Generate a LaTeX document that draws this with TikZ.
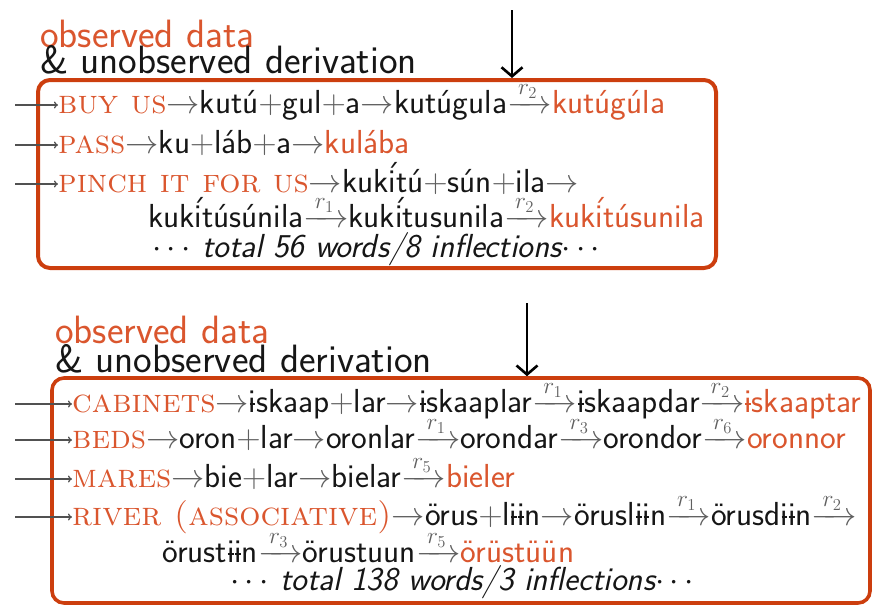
\RequirePackage{fix-cm}
\documentclass[tikz,border=0pt]{standalone}
\usepackage{amsmath}
\usetikzlibrary{arrows.meta}
\definecolor{boxred}{RGB}{204,62,14}
\definecolor{obs}{RGB}{218,86,46}
\definecolor{ag}{RGB}{95,95,95}
\definecolor{tx}{RGB}{22,22,22}
\newcommand\A{{\color{ag}$\rightarrow$}}
\newcommand\Pl{{\color{ag}$+$}}
\newcommand\R[1]{{\color{ag}$\xrightarrow{\,r_{#1}\,}$}}
\newcommand\G[1]{{\color{obs}\rmfamily\scshape #1}}
\newcommand\Ob[1]{{\color{obs}#1}}
\newcommand\ibar{\ooalign{i\cr\hidewidth\rule[0.22em]{0.17em}{0.055em}\hidewidth\cr}}
\newcommand\iac{\ooalign{i\cr\hidewidth\raisebox{0.2em}{\kern0.06em ´}\hidewidth\cr}}
\begin{document}
\begin{tikzpicture}[x=1pt,y=-1pt,
  body/.style={anchor=base west,inner sep=0pt,text=tx,font=\sffamily\fontsize{33.3}{33.3}\selectfont},
  ttl/.style={anchor=base west,inner sep=0pt,font=\sffamily\fontsize{39.5}{39.5}\selectfont},
  box/.style={draw=boxred,rounded corners=12pt,inner sep=0pt},
  lin/.style={draw=ag!85!black,line width=1.3pt,-{To[length=4pt,width=7pt]}},
  down/.style={draw=black,line width=2.6pt,-{Straight Barb[length=9pt,width=21pt,line width=2.6pt]}}]
\useasboundingbox (0,0) rectangle (872,605);
% ---------- top panel ----------
\node[ttl,text=obs] (o1) at (40,47) {observed data};
\node[ttl,text=tx] (u1) at (40,73) {\& unobserved derivation};
\node[box,line width=4pt,minimum width=678pt,minimum height=188pt] (B1) at (377,174) {};
\coordinate (d1) at (512,10);
\draw[down] (d1) -- (d1 |- B1.north);
\node[body] (t1) at (58,113) {\G{buy us}\A kutú\Pl gul\Pl a\A kutúgula\R{2}\Ob{kutúgúla}};
\node[body] (t2) at (58,153) {\G{pass}\A ku\Pl láb\Pl a\A\Ob{kulába}};
\node[body] (t3) at (58,192) {\G{pinch it for us}\A kuk\iac tú\Pl sún\Pl ila\A};
\node[body] (t4) at (148,227) {kuk\iac túsúnila\R{1}kuk\iac tusunila\R{2}\Ob{kuk\iac túsunila}};
\node[body] (t5) at (152,257) {$\cdots$\,\itshape total 56 words/8 inflections$\cdots$};
\coordinate (a1) at (15,105);
\coordinate (a2) at (15,145);
\coordinate (a3) at (15,184);
\draw[lin] (a1) -- (a1 -| t1.west);
\draw[lin] (a2) -- (a2 -| t2.west);
\draw[lin] (a3) -- (a3 -| t3.west);
% ---------- bottom panel ----------
\node[ttl,text=obs] (o2) at (55,343) {observed data};
\node[ttl,text=tx] (u2) at (55,372) {\& unobserved derivation};
\node[box,line width=3.6pt,minimum width=818pt,minimum height=225pt] (B2) at (461,490.5) {};
\coordinate (d2) at (527,303);
\draw[down] (d2) -- (d2 |- B2.north);
\node[body] (b1) at (72,412) {\G{cabinets}\A\ibar skaap\Pl lar\A\ibar skaaplar\R{1}\ibar skaapdar\R{2}\Ob{\ibar skaaptar}};
\node[body] (b2) at (72,448) {\G{beds}\A oron\Pl lar\A oronlar\R{1}orondar\R{3}orondor\R{6}\Ob{oronnor}};
\node[body] (b3) at (72,487) {\G{mares}\A bie\Pl lar\A bielar\R{5}\Ob{bieler}};
\node[body] (b4) at (72,525) {\G{river (associative)}\A örus\Pl l\ibar\ibar n\A örusl\ibar\ibar n\R{1}örusd\ibar\ibar n\R{2}};
\node[body] (b5) at (162,562) {örust\ibar\ibar n\R{3}örustuun\R{5}\Ob{örüstüün}};
\node[body] (b6) at (230,590) {$\cdots$\,\itshape total 138 words/3 inflections$\cdots$};
\coordinate (c1) at (15,404);
\coordinate (c2) at (15,440);
\coordinate (c3) at (15,479);
\coordinate (c4) at (15,517);
\draw[lin] (c1) -- (c1 -| b1.west);
\draw[lin] (c2) -- (c2 -| b2.west);
\draw[lin] (c3) -- (c3 -| b3.west);
\draw[lin] (c4) -- (c4 -| b4.west);
\end{tikzpicture}
\end{document}
